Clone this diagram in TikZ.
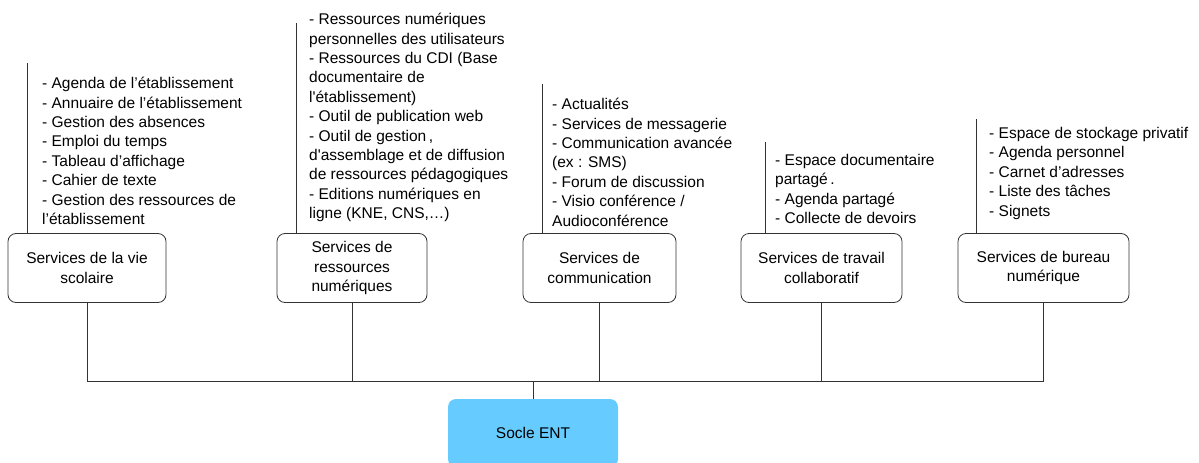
\documentclass[tikz,border=0pt]{standalone}
\usepackage{fontspec}
\setmainfont{Liberation Sans}
\definecolor{socleblue}{RGB}{102,204,255}

\begin{document}
\begin{tikzpicture}[x=1pt,y=-1pt,
  every node/.style={font=\fontsize{15.5}{19.4}\selectfont},
  service/.style={draw=black!80,line width=0.8pt,rounded corners=8pt,
    align=center,minimum height=69pt,inner sep=2pt},
  liste/.style={anchor=north west,align=left,inner sep=0pt},
  trait/.style={draw=black!80,line width=0.8pt}]
  % Page
  \useasboundingbox (0,0) rectangle (1199,463);
  %
  % Service boxes
  \node[service,minimum width=158pt] (vie) at (87,268)
    {Services de la vie\\scolaire};
  \node[service,minimum width=150pt] (ressources) at (352,268)
    {Services de\\ressources\\numériques};
  \node[service,minimum width=153pt] (comm) at (599.5,268)
    {Services de\\communication};
  \node[service,minimum width=161pt] (travail) at (821.5,268)
    {Services de travail\\collaboratif};
  \node[service,minimum width=171pt] (bureau) at (1043.5,268)
    {Services de bureau\\numérique};
  %
  % Base
  \node[fill=socleblue,rounded corners=8pt,minimum width=170pt,
    minimum height=68pt] (socle) at (533,433) {Socle ENT};
  %
  % Lists
  \node[liste] (vie list) at (42,77)
    {- Agenda de l’établissement\\- Annuaire de l’établissement\\
     - Gestion des absences\\- Emploi du temps\\- Tableau d’affichage\\
     - Cahier de texte\\- Gestion des ressources de\\l’établissement};
  \node[liste] (ressources list) at (309,13)
    {- Ressources numériques\\personnelles des utilisateurs\\
     - Ressources du CDI (Base\\documentaire de\\
     l\textquotesingle{}établissement)\\- Outil de publication web\\
     - Outil de gestion\,,\\d\textquotesingle{}assemblage et de diffusion\\
     de ressources pédagogiques\\- Editions numériques en\\
     ligne (KNE, CNS,…)};
  \node[liste] (comm list) at (552,98)
    {- Actualités\\- Services de messagerie\\- Communication avancée\\
     (ex : SMS)\\- Forum de discussion\\- Visio conférence /\\
     Audioconférence};
  \node[liste] (travail list) at (775,154)
    {- Espace documentaire\\partagé\,.\\- Agenda partagé\\
     - Collecte de devoirs};
  \node[liste] (bureau list) at (989,127)
    {- Espace de stockage privatif\\- Agenda personnel\\
     - Carnet d’adresses\\- Liste des tâches\\- Signets};
  %
  % Rules on the left of the lists
  \coordinate (vie top) at (27,63);
  \coordinate (ressources top) at (296,23);
  \coordinate (comm top) at (542,84);
  \coordinate (travail top) at (765,142);
  \coordinate (bureau top) at (976,119);
  \foreach \n in {vie,ressources,comm,travail,bureau}
    \draw[trait] (\n\space top) -- (\n\space top |- \n.north);
  %
  % Bus to the base
  \coordinate (bus) at (0,381);
  \draw[trait] (vie.south) -- (vie.south |- bus)
    -- (bureau.south |- bus) -- (bureau.south);
  \foreach \n in {ressources,comm,travail}
    \draw[trait] (\n.south) -- (\n.south |- bus);
  \draw[trait] (socle.north) -- (socle.north |- bus);
  %
\end{tikzpicture}
\end{document}
